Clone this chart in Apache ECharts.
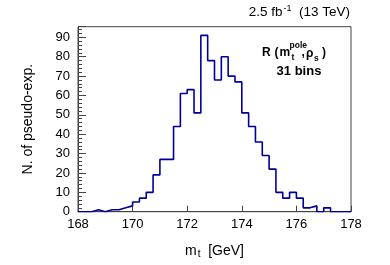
<!DOCTYPE html>
<html>
<head>
<meta charset="utf-8">
<script src="https://cdn.jsdelivr.net/npm/echarts@6/dist/echarts.min.js"></script>
<style>html,body{margin:0;padding:0;background:#fff;}#c{width:390px;height:265px;}</style>
</head>
<body>
<div id="c"></div>
<script>
// Histogram bin left edges (GeV), bin width 0.25
const binLow = [168.00,168.25,168.50,168.75,169.00,169.25,169.50,169.75,
  170.00,170.25,170.50,170.75,171.00,171.25,171.50,171.75,
  172.00,172.25,172.50,172.75,173.00,173.25,173.50,173.75,
  174.00,174.25,174.50,174.75,175.00,175.25,175.50,175.75,
  176.00,176.25,176.50,176.75,177.00,177.25,177.50,177.75];
const histEnd = 178.00;
const counts = [0,0,1,0,1,1,2,3,
  5,7,10,19,27,27,44,61,
  63,51,91,78,68,80,70,67,
  51,44,36,29,22,10,7,10,
  7,2,3,0,2,0,0,0];
const xTicks = [168,170,172,174,176,178];
const yTicks = [0,10,20,30,40,50,60,70,80,90];

const data = binLow.map((x, i) => [x, counts[i]]);
data.push([histEnd, counts[counts.length - 1]]);

const FONT = 'Liberation Sans, Arial, Helvetica, sans-serif';
function t(x, y, text, size, extra) {
  return {type: 'text', style: Object.assign({x: x, y: y, text: text, fontFamily: FONT, fontSize: size, fontWeight: 'bold', fill: '#000', verticalAlign: 'middle'}, extra || {})};
}
const chart = echarts.init(document.getElementById('c'), null, {renderer: 'canvas'});
chart.setOption({
  animation: false,
  backgroundColor: '#fff',
  grid: {left: 78, right: 39, top: 26.7, bottom: 53.3, show: true, borderColor: '#444', borderWidth: 1, backgroundColor: 'transparent'},
  xAxis: {
    type: 'value', min: xTicks[0], max: xTicks[xTicks.length - 1], interval: 2,
    axisLine: {lineStyle: {color: '#444', width: 1}},
    axisTick: {inside: true, length: 6, lineStyle: {color: '#444'}},
    splitLine: {show: false},
    axisLabel: {fontFamily: FONT, fontSize: 13, color: '#000', margin: 6},
    name: '{m|m}{s|t}{m|  [GeV]}', nameLocation: 'middle', nameGap: 30,
    nameTextStyle: {rich: {
      m: {fontFamily: FONT, fontSize: 14, color: '#000'},
      s: {fontFamily: FONT, fontSize: 10, color: '#000', verticalAlign: 'bottom', padding: [8, 0, 0, 1]}
    }}
  },
  yAxis: {
    type: 'value', min: 0, max: 95.5, interval: 10,
    axisLine: {show: true, lineStyle: {color: '#444', width: 1}},
    axisTick: {inside: true, length: 8, lineStyle: {color: '#444'}},
    minorTick: {show: true, splitNumber: 5, length: 4, lineStyle: {color: '#444'}},
    splitLine: {show: false},
    axisLabel: {fontFamily: FONT, fontSize: 13, color: '#000', margin: 8, showMaxLabel: false},
    name: 'N. of pseudo-exp.', nameLocation: 'middle', nameGap: 43,
    nameTextStyle: {fontFamily: FONT, fontSize: 14, color: '#000'}
  },
  series: [{
    type: 'line', step: 'end', data: data, symbol: 'none',
    lineStyle: {color: '#000099', width: 1.6},
    z: 3
  }],
  graphic: [
    {type: 'text', style: {x: 350, y: 12, text: '{a|2.5 fb}{b|-1}{a|  (13 TeV)}', align: 'right', verticalAlign: 'middle',
      rich: {a: {fontFamily: FONT, fontSize: 13.5, color: '#000'}, b: {fontFamily: FONT, fontSize: 9, color: '#000', verticalAlign: 'top', padding: [0, 0, 6, 1]}}}},
    t(262, 53, 'R', 12),
    t(274.5, 53, '(', 12),
    t(279.5, 53, 'm', 12),
    t(289.5, 45.5, 'pole', 8.5),
    t(291.5, 57.5, 't', 8.5),
    t(301.5, 53, ',', 12),
    t(306, 54, 'ρ', 12),
    t(314, 58.5, 's', 8.5),
    t(322, 53, ')', 12),
    t(299, 71.5, '31 bins', 13, {align: 'center'})
  ]
});
</script>
</body>
</html>
